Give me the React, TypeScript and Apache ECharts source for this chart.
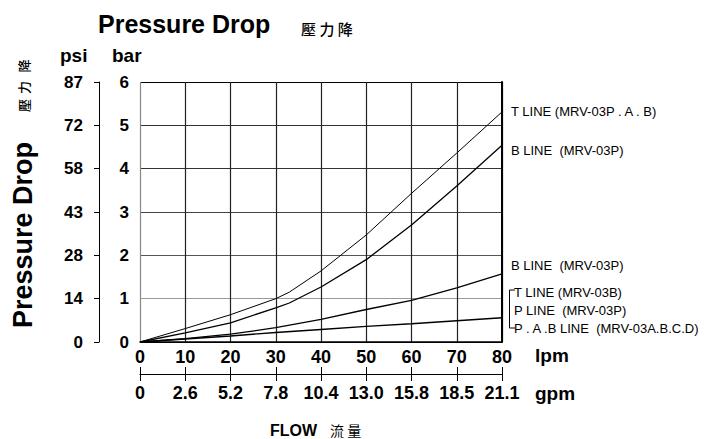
import React, { useEffect, useRef } from "react";
import * as echarts from "echarts";

// Flow (lpm) sample points
const flowLpmHigh = [0, 10, 20, 30, 33, 40, 50, 60, 70, 80];
const flowLpmLow = [0, 10, 20, 30, 40, 50, 60, 70, 80];
// Pressure drop (bar)
const tLineMRV03PAB = [0, 0.31, 0.63, 1.0, 1.15, 1.64, 2.47, 3.43, 4.36, 5.31];
const bLineMRV03PHigh = [0, 0.21, 0.44, 0.79, 0.9, 1.27, 1.9, 2.7, 3.6, 4.54];
const bLineMRV03PLow = [0, 0.08, 0.18, 0.33, 0.52, 0.75, 0.96, 1.25, 1.57];
const tpLineLow = [0, 0.07, 0.14, 0.22, 0.29, 0.36, 0.42, 0.49, 0.56];
// Tick labels
const psiLabels = ["0", "14", "28", "43", "58", "72", "87"];
const gpmLabels = ["0", "2.6", "5.2", "7.8", "10.4", "13.0", "15.8", "18.5", "21.1"];
const curveLabels = [
  "T LINE (MRV-03P . A . B)",
  "B LINE  (MRV-03P)",
  "B LINE  (MRV-03P)",
  "T LINE (MRV-03B)",
  "P LINE  (MRV-03P)",
  "P . A .B LINE  (MRV-03A.B.C.D)",
];
const yTitleCjk = ["壓", "力", "降"];

const FONT = "'Liberation Sans', Arial, Helvetica, sans-serif";
const CJK = "'Noto Sans CJK TC', 'Noto Sans CJK SC', sans-serif";

const zip = (xs: number[], ys: number[]) => xs.map((x, i) => [x, ys[i]]);

export default function App() {
  const ref = useRef<HTMLDivElement>(null);
  useEffect(() => {
    if (!ref.current) return;
    const chart = echarts.init(ref.current, null, { renderer: "svg" });
    const lbl = (text: string, x: number, y: number) => ({
      type: "text",
      x,
      y,
      style: { text, font: `13px ${FONT}`, fill: "#000", align: "left", verticalAlign: "middle" },
    });
    const bold = (text: string, x: number, y: number, size: number) => ({
      type: "text",
      x,
      y,
      style: { text, font: `bold ${size}px ${FONT}`, fill: "#000", align: "left", verticalAlign: "middle" },
    });
    const lineSeries = (xs: number[], ys: number[], w: number) => ({
      type: "line",
      data: zip(xs, ys),
      showSymbol: false,
      smooth: false,
      xAxisIndex: 0,
      yAxisIndex: 0,
      lineStyle: { color: "#000", width: w },
    });
    const cjkYPos = [105.5, 87.5, 66];
    chart.setOption({
      animation: false,
      backgroundColor: "#fff",
      grid: { left: 140, right: 204, top: 82, bottom: 97 },
      xAxis: [
        {
          type: "value",
          min: 0,
          max: 80,
          interval: 10,
          position: "bottom",
          axisLine: { show: true, onZero: false, lineStyle: { color: "#000", width: 1.5 } },
          axisTick: { show: false },
          axisLabel: { color: "#000", fontFamily: FONT, fontWeight: "bold", fontSize: 18, margin: 6 },
          splitLine: {
            show: true,
            lineStyle: {
              color: ["#888", "#222", "#222", "#222", "#222", "#222", "#222", "#222", "#000"],
              width: 1.2,
            },
          },
        },
        {
          type: "value",
          min: 0,
          max: 80,
          interval: 10,
          position: "bottom",
          offset: 32,
          axisLine: { show: true, onZero: false, lineStyle: { color: "#000", width: 1 } },
          axisTick: { show: true, inside: true, length: 7, lineStyle: { color: "#000" } },
          axisLabel: {
            color: "#000",
            fontFamily: FONT,
            fontWeight: "bold",
            fontSize: 18,
            margin: 10,
            formatter: (v: number) => gpmLabels[Math.round(v / 10)],
          },
          splitLine: { show: false },
        },
        {
          type: "value",
          min: 0,
          max: 80,
          interval: 10,
          position: "bottom",
          offset: 32,
          axisLine: { show: false, onZero: false },
          axisTick: { show: true, inside: false, length: 7, lineStyle: { color: "#000" } },
          axisLabel: { show: false },
          splitLine: { show: false },
        },
      ],
      yAxis: [
        {
          type: "value",
          min: 0,
          max: 6,
          interval: 1,
          position: "left",
          axisLine: { show: false, onZero: false },
          axisTick: { show: false },
          axisLabel: { color: "#000", fontFamily: FONT, fontWeight: "bold", fontSize: 17, margin: 11 },
          splitLine: {
            show: true,
            lineStyle: { color: ["#000", "#999", "#555", "#444", "#333", "#333", "#000"], width: 1.2 },
          },
        },
        {
          type: "value",
          min: 0,
          max: 6,
          interval: 1,
          position: "left",
          offset: 41,
          axisLine: { show: true, onZero: false, lineStyle: { color: "#000", width: 1 } },
          axisTick: { show: true, inside: false, length: 5, lineStyle: { color: "#000" } },
          axisLabel: {
            color: "#000",
            fontFamily: FONT,
            fontWeight: "bold",
            fontSize: 17,
            margin: 16,
            formatter: (v: number) => psiLabels[Math.round(v)],
          },
          splitLine: { show: false },
        },
        {
          type: "value",
          min: 0,
          max: 6,
          interval: 1,
          position: "right",
          axisLine: { show: true, onZero: false, lineStyle: { color: "#000", width: 2 } },
          axisTick: { show: false },
          axisLabel: { show: false },
          splitLine: { show: false },
        },
      ],
      series: [
        lineSeries(flowLpmHigh, tLineMRV03PAB, 1),
        lineSeries(flowLpmHigh, bLineMRV03PHigh, 1.3),
        lineSeries(flowLpmLow, bLineMRV03PLow, 1.3),
        lineSeries(flowLpmLow, tpLineLow, 1.4),
      ],
      graphic: [
        bold("Pressure Drop", 98, 24, 25),
        {
          type: "text",
          x: 301,
          y: 28.5,
          style: { text: "壓 力 降", font: `500 15px ${CJK}`, fill: "#000", align: "left", verticalAlign: "middle" },
        },
        bold("psi", 60, 55, 19),
        bold("bar", 112, 55, 19),
        bold("lpm", 535, 355, 19),
        bold("gpm", 535, 393, 19),
        bold("FLOW", 270, 430, 16),
        {
          type: "text",
          x: 330,
          y: 430,
          style: { text: "流 量", font: `14px ${CJK}`, fill: "#000", align: "left", verticalAlign: "middle" },
        },
        {
          type: "text",
          x: 23,
          y: 328,
          rotation: Math.PI / 2,
          style: { text: "Pressure Drop", font: `bold 27px ${FONT}`, fill: "#000", align: "left", verticalAlign: "middle" },
        },
        ...yTitleCjk.map((ch, i) => ({
          type: "text",
          x: 23,
          y: cjkYPos[i],
          rotation: Math.PI / 2,
          style: { text: ch, font: `500 13px ${CJK}`, fill: "#000", align: "center", verticalAlign: "middle" },
        })),
        lbl(curveLabels[0], 511, 111),
        lbl(curveLabels[1], 511, 150),
        lbl(curveLabels[2], 511, 265),
        lbl(curveLabels[3], 514, 292),
        lbl(curveLabels[4], 514, 310),
        lbl(curveLabels[5], 514, 328),
        {
          type: "polyline",
          shape: { points: [[515, 290], [509.5, 290], [509.5, 328], [515, 328]] },
          style: { stroke: "#000", lineWidth: 1, fill: "none" },
        },
      ],
    });
    return () => chart.dispose();
  }, []);
  return <div ref={ref} style={{ width: 706, height: 439, position: "absolute", left: 0, top: 0 }} />;
}
